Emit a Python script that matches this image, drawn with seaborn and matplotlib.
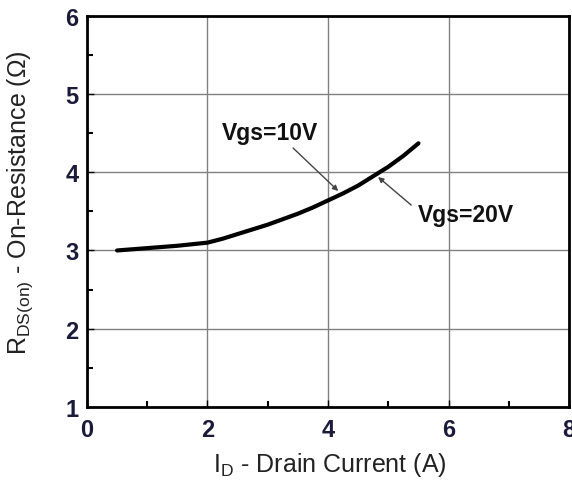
import matplotlib
matplotlib.use("Agg")
import matplotlib.pyplot as plt
import seaborn as sns
import pandas as pd
from matplotlib.ticker import MultipleLocator

sns.set_theme(style="white")
plt.rcParams['font.family'] = ['Liberation Sans', 'DejaVu Sans']
plt.rcParams['mathtext.fontset'] = 'custom'
plt.rcParams['mathtext.rm'] = 'Liberation Sans'

current = [0.5, 1.0, 1.5, 1.75, 2.0, 2.25, 2.5, 2.75, 3.0, 3.25, 3.5, 3.75,
           4.0, 4.25, 4.5, 4.75, 5.0, 5.25, 5.5]
resistance = [3.00, 3.03, 3.06, 3.08, 3.10, 3.15, 3.21, 3.27, 3.33, 3.40, 3.47, 3.55,
              3.64, 3.73, 3.83, 3.95, 4.07, 4.21, 4.37]
x_ticks = [0, 2, 4, 6, 8]
y_ticks = [1, 2, 3, 4, 5, 6]

df = pd.DataFrame({"I": current, "R": resistance})

fig = plt.figure(figsize=(5.72, 4.81), dpi=100)
ax = fig.add_axes([0.152, 0.152, 0.843, 0.813])

sns.lineplot(data=df, x="I", y="R", ax=ax, color="black", linewidth=3)

ax.set_xlim(0, 8)
ax.set_ylim(1, 6)
ax.set_xticks(x_ticks)
ax.set_yticks(y_ticks)
ax.xaxis.set_minor_locator(MultipleLocator(1))
ax.yaxis.set_minor_locator(MultipleLocator(0.5))
ax.grid(True, which="major", color="#808080", linewidth=1)
ax.tick_params(which="major", direction="in", length=5, width=1, colors="black",
               labelsize=17, bottom=True, left=True)
ax.tick_params(axis="x", which="major", pad=8)
ax.tick_params(axis="y", which="major", pad=6)
ax.tick_params(which="minor", direction="in", length=4, width=1.5, colors="black",
               bottom=True, left=True)
for lbl in ax.get_xticklabels() + ax.get_yticklabels():
    lbl.set_fontweight("bold")
    lbl.set_color("#1a1a3a")
for s in ax.spines.values():
    s.set_color("black")
    s.set_linewidth(2)

ax.set_xlabel("I$_{\\rm D}$ - Drain Current (A)", fontsize=18, color="#222222")
ax.set_ylabel("R$_{\\rm DS(on)}$ - On-Resistance (\u03a9)", fontsize=18, color="#222222")
ax.xaxis.label.set_va("center")
ax.yaxis.label.set_va("center")
ax.xaxis.set_label_coords(0.504, -0.146)
ax.yaxis.set_label_coords(-0.139, 0.524)

arrow = dict(arrowstyle="-|>", color="#444444", lw=1, shrinkA=0, shrinkB=0, mutation_scale=8)
ax.text(3.04, 4.51, "Vgs=10V", fontsize=16.5, fontweight="bold", color="#111111",
        ha="center", va="center")
ax.annotate("", xy=(4.17, 3.76), xytext=(3.42, 4.31), arrowprops=arrow)
ax.text(6.28, 3.46, "Vgs=20V", fontsize=16.5, fontweight="bold", color="#111111",
        ha="center", va="center")
ax.annotate("", xy=(4.83, 3.94), xytext=(5.38, 3.58), arrowprops=arrow)

fig.savefig("out.png", dpi=100)
